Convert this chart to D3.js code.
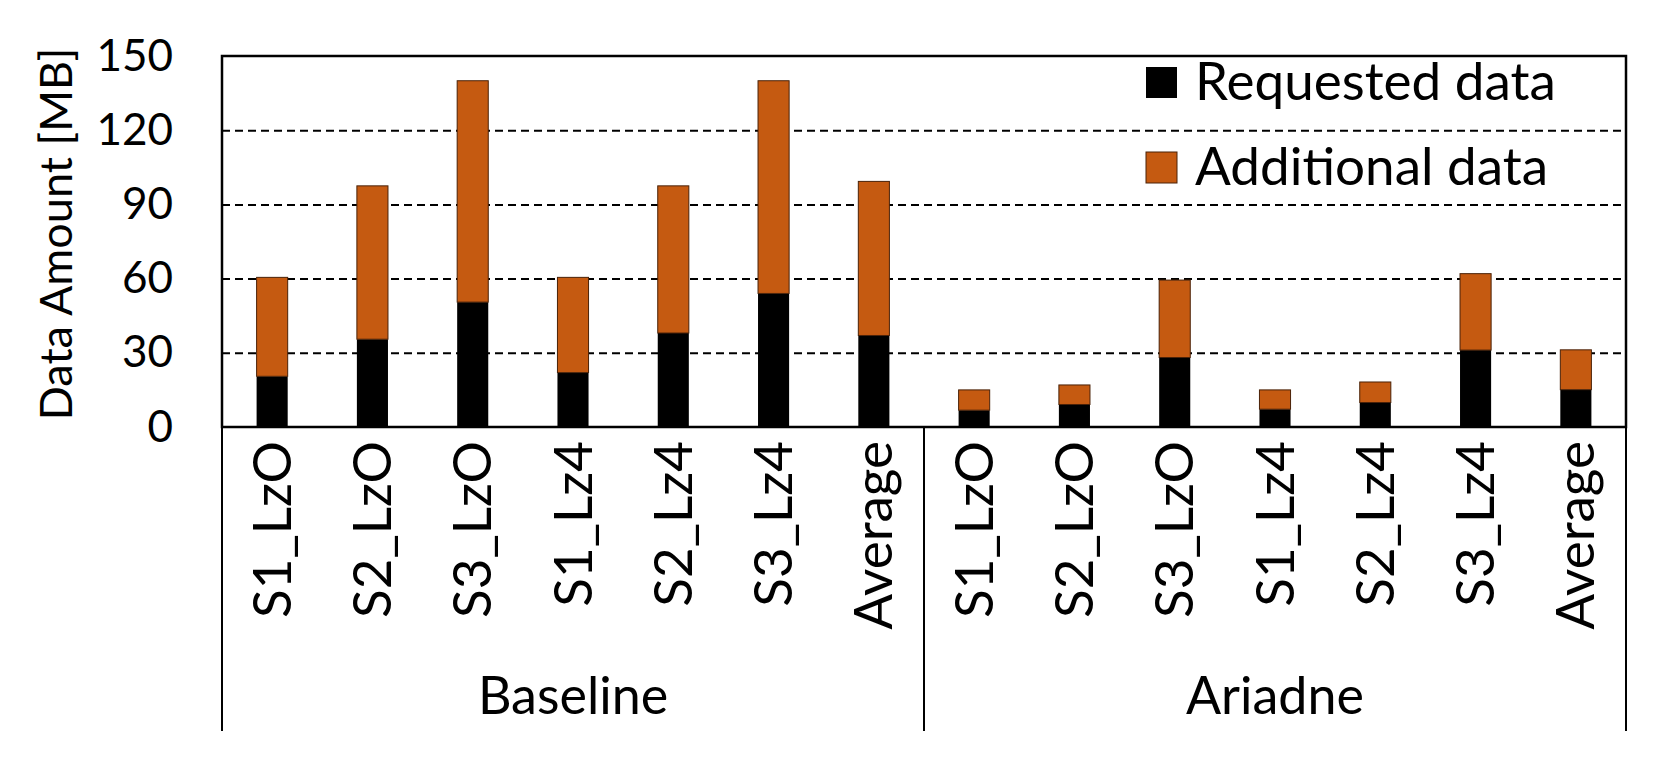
<!DOCTYPE html>
<html>
<head>
<meta charset="utf-8">
<script src="https://cdn.jsdelivr.net/npm/d3@7"></script>
<style>
  html, body { margin: 0; padding: 0; background: #fff; }
  svg { display: block; }
  text { font-family: "Lato", "Liberation Sans", sans-serif; fill: #000; }
</style>
</head>
<body>
<svg id="chart" width="1678" height="758"></svg>
<script>
// ---- data ----
const categories = ["S1_LzO", "S2_LzO", "S3_LzO", "S1_Lz4", "S2_Lz4", "S3_Lz4", "Average"];
const groups = ["Baseline", "Ariadne"];
const requestedBaseline  = [20.5, 35.5, 50.5, 22.0, 38.0, 54.0, 37.0];
const additionalBaseline = [40.0, 62.0, 89.5, 38.5, 59.5, 86.0, 62.3];
const requestedAriadne   = [6.8, 9.1, 28.1, 7.2, 9.9, 31.1, 15.1];
const additionalAriadne  = [8.2, 7.9, 31.3, 7.8, 8.3, 30.9, 16.1];
const yTicks = [0, 30, 60, 90, 120, 150];
const seriesKeys = ["requested", "additional"];
const seriesLabels = ["Requested data", "Additional data"];
const seriesColors = ["#000000", "#C55A11"];
const yTitle = "Data Amount [MB]";

// ---- build table ----
const requestedByGroup = { Baseline: requestedBaseline, Ariadne: requestedAriadne };
const additionalByGroup = { Baseline: additionalBaseline, Ariadne: additionalAriadne };
const rows = [];
groups.forEach(g => categories.forEach((c, i) => {
  rows.push({ key: g + "|" + c, group: g, cat: c,
              requested: requestedByGroup[g][i], additional: additionalByGroup[g][i] });
}));

// ---- layout ----
const M = { left: 222, right: 1626, top: 56, bottom: 427, axisBottom: 731 };
const svg = d3.select("#chart");

const x = d3.scaleBand().domain(rows.map(d => d.key)).range([M.left, M.right])
  .paddingInner(0.69).paddingOuter(0.345);
const y = d3.scaleLinear().domain([0, 150]).range([M.bottom, M.top]);
const color = d3.scaleOrdinal().domain(seriesKeys).range(seriesColors);

// gridlines
const grid = svg.append("g").attr("transform", `translate(${M.left},0)`)
  .call(d3.axisLeft(y).tickValues(yTicks.filter(v => v > 0 && v < 150))
        .tickSize(-(M.right - M.left)).tickFormat(""));
grid.select(".domain").remove();
grid.selectAll("line").attr("stroke", "#000").attr("stroke-width", 2)
  .attr("stroke-dasharray", "8,5");

// bars
const stacked = d3.stack().keys(seriesKeys)(rows);
svg.append("g").selectAll("g").data(stacked).join("g")
  .attr("fill", d => color(d.key))
  .attr("stroke", d => d.key === "additional" ? "#4a2208" : "none")
  .attr("stroke-width", 1)
  .selectAll("rect").data(d => d).join("rect")
  .attr("x", d => x(d.data.key))
  .attr("width", x.bandwidth())
  .attr("y", d => y(d[1]))
  .attr("height", d => y(d[0]) - y(d[1]));

// frame
svg.append("rect").attr("x", M.left).attr("y", M.top)
  .attr("width", M.right - M.left).attr("height", M.bottom - M.top)
  .attr("fill", "none").attr("stroke", "#000").attr("stroke-width", 2.5);

// y axis labels
const yAxis = svg.append("g").attr("transform", `translate(${M.left},0)`)
  .call(d3.axisLeft(y).tickValues(yTicks).tickSize(0).tickPadding(49));
yAxis.select(".domain").remove();
yAxis.selectAll("text").attr("font-size", 44).attr("font-family", "Lato").attr("fill", "#000");

// y title
svg.append("text")
  .attr("transform", `translate(72,234) rotate(-90)`)
  .attr("text-anchor", "middle")
  .attr("font-size", 45)
  .text(yTitle);

// x axis category labels
const xAxis = svg.append("g").attr("transform", `translate(0,${M.bottom})`)
  .call(d3.axisBottom(x).tickSize(0).tickFormat(k => k.split("|")[1]));
xAxis.select(".domain").remove();
xAxis.selectAll("text")
  .attr("font-size", 53).attr("font-family", "Lato").attr("fill", "#000")
  .attr("transform", "rotate(-90)")
  .attr("text-anchor", "end")
  .attr("x", -14).attr("y", 0).attr("dy", "0.35em");

// group separators
const step = x.step();
const sepXs = [M.left];
groups.forEach((g, i) => {
  const last = rows.filter(r => r.group === g).map(r => r.key).slice(-1)[0];
  sepXs.push(i === groups.length - 1 ? M.right : x(last) + x.bandwidth() / 2 + step / 2);
});
svg.append("g").selectAll("line").data(sepXs).join("line")
  .attr("x1", d => d).attr("x2", d => d)
  .attr("y1", M.bottom).attr("y2", M.axisBottom)
  .attr("stroke", "#000").attr("stroke-width", 2);

// group labels
svg.append("g").selectAll("text").data(groups).join("text")
  .attr("x", (g, i) => (sepXs[i] + sepXs[i + 1]) / 2)
  .attr("y", 714)
  .attr("text-anchor", "middle")
  .attr("font-size", 52)
  .text(g => g);

// legend
const legend = svg.append("g").selectAll("g").data(seriesKeys).join("g")
  .attr("transform", (d, i) => `translate(1146,${67 + i * 85})`);
legend.append("rect").attr("width", 31).attr("height", 31)
  .attr("fill", d => color(d))
  .attr("stroke", d => d === "additional" ? "#4a2208" : "none").attr("stroke-width", 1);
legend.append("text").attr("x", 49).attr("y", 33)
  .attr("font-size", 53)
  .text((d, i) => seriesLabels[i]);
</script>
</body>
</html>
